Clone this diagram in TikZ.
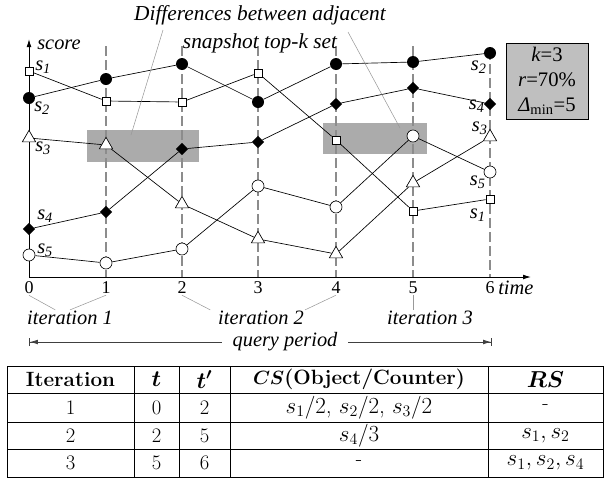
\documentclass[tikz,border=0pt]{standalone}
\usepackage{fontspec}
\usepackage{bm}
\usetikzlibrary{shapes.geometric,arrows.meta}
\newfontfamily\figfont{Liberation Serif}

\tikzset{
  sqmark/.style={rectangle,draw,fill=white,line width=0.5pt,minimum size=6pt,inner sep=0pt},
  dotmark/.style={circle,fill=black,minimum size=9pt,inner sep=0pt},
  trimark/.style={regular polygon,regular polygon sides=3,draw,fill=white,line width=0.5pt,minimum size=11.5pt,inner sep=0pt},
  diamark/.style={diamond,fill=black,minimum size=9.5pt,inner sep=0pt},
  ocmark/.style={circle,draw,fill=white,line width=0.5pt,minimum size=9pt,inner sep=0pt},
  series/.style={line width=0.5pt},
  snapline/.style={draw=black!45,line width=1pt,dash pattern=on 7.5pt off 3pt},
  axisline/.style={line width=0.7pt,-{Latex[length=6pt,width=3.6pt]}},
  figtext/.style={font=\figfont\itshape\fontsize{15.3}{18}\selectfont,inner sep=0.75pt},
  ticktext/.style={font=\figfont\fontsize{13.5}{16}\selectfont,inner sep=0.75pt},
  leader/.style={draw=black!40,line width=0.4pt},
  diffbox/.style={fill=black!33},
  periodarrow/.style={draw=black!75,line width=0.6pt,-{Latex[length=6pt,width=3.5pt]Bar[width=6pt]}},
  tline/.style={line width=0.7pt},
  tcell/.style={font=\fontsize{15.5}{18}\selectfont,inner sep=0pt},
  mcell/.style={font=\fontsize{17.5}{20}\selectfont,inner sep=0pt},
}

\begin{document}
\begin{tikzpicture}[x=0.75pt,y=0.75pt,yscale=-1,xscale=1]
	\useasboundingbox (0,0) rectangle (605,482);

	% Difference boxes
	\fill[diffbox] (87,130) rectangle (199,162);
	\fill[diffbox] (323,123) rectangle (427,154);
	% Snapshot lines
	\draw[snapline] (106,46) -- (106,277);
	\draw[snapline] (182,46) -- (182,277);
	\draw[snapline] (258,46) -- (258,277);
	\draw[snapline] (336,46) -- (336,277);
	\draw[snapline] (413,46) -- (413,277);
	\draw[snapline] (490,50) -- (490,277);
	% Axes
	\coordinate (org) at (29,277);
	\coordinate (ytop) at (29,39);
	\coordinate (xend) at (531,277);
	\draw[axisline] (org) -- (ytop);
	\draw[axisline] (org) -- (xend);
	\node[figtext,anchor=west] (scorelbl) at (36,45) {score};
	\node[figtext,anchor=west] (timelbl) at (497,288) {time};
	% Tick labels
	\node[ticktext] (tk0) at (29,288) {0};
	\node[ticktext] (tk1) at (106,288) {1};
	\node[ticktext] (tk2) at (182,288) {2};
	\node[ticktext] (tk3) at (258,288) {3};
	\node[ticktext] (tk4) at (336,288) {4};
	\node[ticktext] (tk5) at (413,288) {5};
	\node[ticktext] (tk6) at (490,288) {6};

	% Series s1
	\node[sqmark] (s1t0) at (29,71) {};
	\node[sqmark] (s1t1) at (106,101) {};
	\node[sqmark] (s1t2) at (182,102) {};
	\node[sqmark] (s1t3) at (258,73) {};
	\node[sqmark] (s1t4) at (336,140) {};
	\node[sqmark] (s1t5) at (413,211) {};
	\node[sqmark] (s1t6) at (490,199) {};
	% Series s2
	\node[dotmark] (s2t0) at (29,98) {};
	\node[dotmark] (s2t1) at (106,79) {};
	\node[dotmark] (s2t2) at (182,64) {};
	\node[dotmark] (s2t3) at (258,102) {};
	\node[dotmark] (s2t4) at (336,64) {};
	\node[dotmark] (s2t5) at (413,62) {};
	\node[dotmark] (s2t6) at (490,53) {};
	% Series s3
	\node[trimark] (s3t0) at (29,138) {};
	\node[trimark] (s3t1) at (106,145) {};
	\node[trimark] (s3t2) at (182,204) {};
	\node[trimark] (s3t3) at (258,239) {};
	\node[trimark] (s3t4) at (336,254) {};
	\node[trimark] (s3t5) at (413,183) {};
	\node[trimark] (s3t6) at (490,137) {};
	% Series s4
	\node[diamark] (s4t0) at (29,229) {};
	\node[diamark] (s4t1) at (106,212) {};
	\node[diamark] (s4t2) at (182,149) {};
	\node[diamark] (s4t3) at (258,142) {};
	\node[diamark] (s4t4) at (336,104) {};
	\node[diamark] (s4t5) at (413,88) {};
	\node[diamark] (s4t6) at (490,104) {};
	% Series s5
	\node[ocmark] (s5t0) at (29,255) {};
	\node[ocmark] (s5t1) at (106,263) {};
	\node[ocmark] (s5t2) at (182,249) {};
	\node[ocmark] (s5t3) at (258,186) {};
	\node[ocmark] (s5t4) at (336,207) {};
	\node[ocmark] (s5t5) at (413,136) {};
	\node[ocmark] (s5t6) at (490,172) {};

	% Connections
	\draw[series] (s1t0) -- (s1t1) -- (s1t2) -- (s1t3) -- (s1t4) -- (s1t5) -- (s1t6);
	\draw[series] (s2t0) -- (s2t1) -- (s2t2) -- (s2t3) -- (s2t4) -- (s2t5) -- (s2t6);
	\draw[series] (s3t0) -- (s3t1) -- (s3t2) -- (s3t3) -- (s3t4) -- (s3t5) -- (s3t6);
	\draw[series] (s4t0) -- (s4t1) -- (s4t2) -- (s4t3) -- (s4t4) -- (s4t5) -- (s4t6);
	\draw[series] (s5t0) -- (s5t1) -- (s5t2) -- (s5t3) -- (s5t4) -- (s5t5) -- (s5t6);

	% Series labels
	\node[figtext,anchor=west] (s1left) at (34,67) {s\textsubscript{1}};
	\node[figtext,anchor=west] (s2left) at (33,108) {s\textsubscript{2}};
	\node[figtext,anchor=west] (s3left) at (34,148) {s\textsubscript{3}};
	\node[figtext,anchor=west] (s4left) at (36,216) {s\textsubscript{4}};
	\node[figtext,anchor=west] (s5left) at (36,250) {s\textsubscript{5}};
	\node[figtext,anchor=east] (s2right) at (488,67) {s\textsubscript{2}};
	\node[figtext,anchor=east] (s4right) at (486,106) {s\textsubscript{4}};
	\node[figtext,anchor=east] (s3right) at (489,128) {s\textsubscript{3}};
	\node[figtext,anchor=east] (s5right) at (487,182) {s\textsubscript{5}};
	\node[figtext,anchor=east] (s1right) at (487,215) {s\textsubscript{1}};

	% Note on the difference boxes
	\node[figtext,font=\figfont\itshape\fontsize{16}{21}\selectfont,align=center] (diffnote) at (260,29) {Differences between adjacent\\snapshot top-k set};
	\coordinate (d1a) at (163,30);
	\coordinate (d1b) at (131,135);
	\coordinate (d2a) at (348,32);
	\coordinate (d2b) at (400,128);
	\draw[leader] (d1a) -- (d1b);
	\draw[leader] (d2a) -- (d2b);

	% Parameter box
	\node[draw,fill=black!25,line width=0.6pt,minimum width=61.5pt,minimum height=57pt,align=center,
	      font=\figfont\fontsize{15.5}{18.75}\selectfont] (params) at (547,81)
	      {{\itshape k}=3\\{\itshape r}=70\%\\{\itshape Δ}\textsubscript{min}=5};

	% Iterations
	\node[figtext] (it1) at (70,318) {iteration 1};
	\node[figtext] (it2) at (261,318) {iteration 2};
	\node[figtext] (it3) at (430,318) {iteration 3};
	\draw[leader] (tk0.south) -- ([xshift=-11pt]it1.north);
	\draw[leader] (tk1.south) -- (it1.north);
	\draw[leader] (tk2.south) -- ([xshift=-5pt]it2.north west);
	\draw[leader] (tk4.south) -- (it2.north east);
	\draw[leader] (tk5.south) -- ([xshift=-12.75pt]it3.north);

	% Query period
	\node[figtext,inner xsep=8pt] (qperiod) at (285,342) {query period};
	\coordinate (qstart) at (29,342);
	\coordinate (qend) at (492,342);
	\draw[periodarrow] (qperiod.west) -- (qstart);
	\draw[periodarrow] (qperiod.east) -- (qend);

	% Table
	\draw[tline] (7,366) rectangle (603,477);
	\draw[tline] (7,393) -- (603,393);
	\draw[tline] (7,422) -- (603,422);
	\draw[tline] (7,449) -- (603,449);
	\draw[tline] (134,366) -- (134,477);
	\draw[tline] (179,366) -- (179,477);
	\draw[tline] (230,366) -- (230,477);
	\draw[tline] (488,366) -- (488,477);
	\node[tcell] (hIter) at (70.5,379.5) {\bfseries Iteration};
	\node[mcell] (hT) at (156.5,379.5) {$\bm{t}$};
	\node[mcell] (hTp) at (204.5,379.5) {$\bm{t'}$};
	\node[tcell] (hCS) at (359,379.5) {$\bm{CS}$\bfseries(Object/Counter)};
	\node[mcell] (hRS) at (545.5,379.5) {$\bm{RS}$};
	\node[tcell] (r1Iter) at (70.5,407.5) {1};
	\node[tcell] (r1T) at (156.5,407.5) {0};
	\node[tcell] (r1Tp) at (204.5,407.5) {2};
	\node[mcell] (r1CS) at (359,407.5) {$s_1/2$, $s_2/2$, $s_3/2$};
	\node[tcell] (r1RS) at (545.5,407.5) {-};
	\node[tcell] (r2Iter) at (70.5,435.5) {2};
	\node[tcell] (r2T) at (156.5,435.5) {2};
	\node[tcell] (r2Tp) at (204.5,435.5) {5};
	\node[mcell] (r2CS) at (359,435.5) {$s_4/3$};
	\node[mcell] (r2RS) at (545.5,435.5) {$s_1,s_2$};
	\node[tcell] (r3Iter) at (70.5,463) {3};
	\node[tcell] (r3T) at (156.5,463) {5};
	\node[tcell] (r3Tp) at (204.5,463) {6};
	\node[tcell] (r3CS) at (359,463) {-};
	\node[mcell] (r3RS) at (545.5,463) {$s_1,s_2,s_4$};

\end{tikzpicture}
\end{document}
